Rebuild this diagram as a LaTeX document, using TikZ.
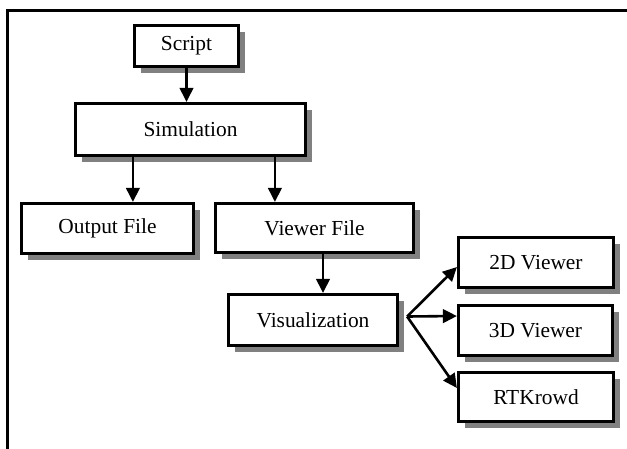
\documentclass[tikz,border=0pt]{standalone}
\usepackage{fontspec}
\setmainfont{Liberation Serif}
\usetikzlibrary{arrows.meta,shadows,calc}
\definecolor{shadowgray}{HTML}{808080}
\tikzset{
  box/.style={draw=black, line width=3.2pt, fill=white, inner sep=0pt,
    font=\fontsize{21.4}{24}\selectfont,
    drop shadow={shadow xshift=6pt, shadow yshift=-6pt, fill=shadowgray, opacity=1}},
  arr/.style={line width=2.6pt, -{Triangle[length=14pt,width=13.5pt]}},
  frame/.style={line width=3pt}
}
\begin{document}
\begin{tikzpicture}[x=1pt,y=-1pt]
\useasboundingbox (0,0) rectangle (627,448);
\coordinate (ftop) at (627,10);
\coordinate (fcorner) at (7,10);
\coordinate (fbottom) at (7,449);
\draw[frame] (ftop) -- (fcorner) -- (fbottom);

\node[box, minimum width=104pt, minimum height=41pt] (script) at (186.5,46) {Script};
\node[box, minimum width=230pt, minimum height=52pt] (sim) at (190.5,129.5) {Simulation};
\node[box, minimum width=172pt, minimum height=50pt] (out) at (107.5,228.5) {Output File};
\node[box, minimum width=198pt, minimum height=49pt] (vf) at (314.5,228) {Viewer File};
\node[box, minimum width=169pt, minimum height=51pt] (vis) at (313,320) {Visualization};
\node[box, minimum width=155pt, minimum height=50pt] (v2d) at (536,262.5) {2D Viewer};
\node[box, minimum width=154pt, minimum height=50pt] (v3d) at (535.5,330.5) {3D Viewer};
\node[box, minimum width=155pt, minimum height=49pt] (rtk) at (536,397) {RTKrowd};

\draw[arr] (script.south) -- (script.south |- sim.north);
\coordinate (s1) at ($(sim.south west)+(59,0)$);
\coordinate (s2) at ($(sim.south west)+(201,0)$);
\draw[arr] (s1) -- (s1 |- out.north);
\draw[arr] (s2) -- (s2 |- vf.north);
\coordinate (vfo) at ([xshift=8.5pt]vf.south);
\draw[arr] (vfo) -- (vfo |- vis.north);
\coordinate (fork) at ([xshift=8pt,yshift=3.5pt]vis.east);
\draw[arr] (fork) -- ([yshift=-4.5pt]v2d.west);
\draw[arr] (fork) -- ([yshift=14.5pt]v3d.west);
\draw[arr] (fork) -- ([yshift=9pt]rtk.west);
\end{tikzpicture}
\end{document}
